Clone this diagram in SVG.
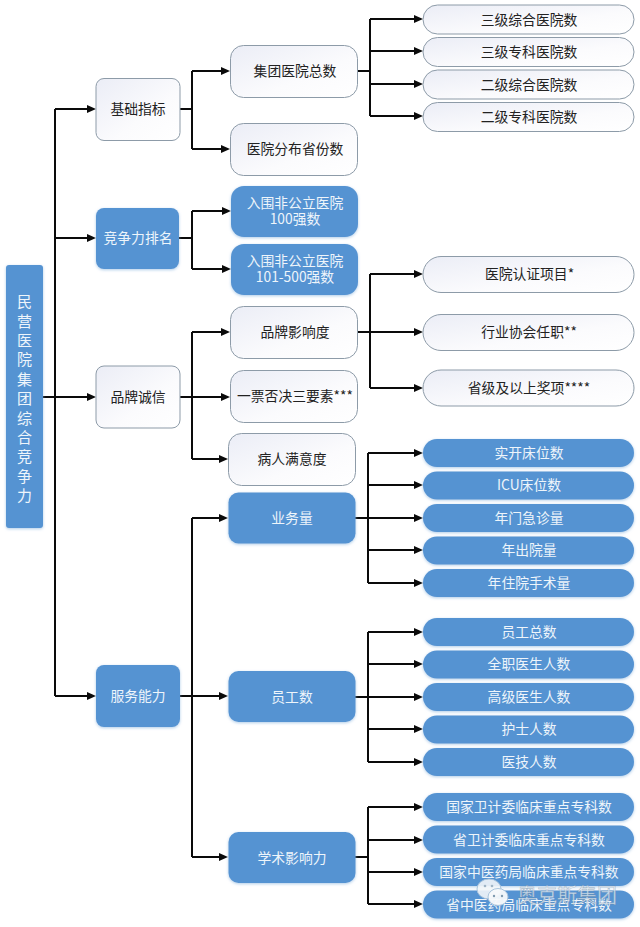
<svg xmlns="http://www.w3.org/2000/svg" width="640" height="927" viewBox="0 0 640 927">
<style>
text{font-family:"Noto Sans CJK SC","Noto Sans",sans-serif;font-size:13.800px;text-anchor:middle;dominant-baseline:central;transform:translateY(-0.800px)}
.w rect{fill:url(#wg);stroke:#8d9ba8;stroke-width:1}
.w text{fill:#222}
.b rect{fill:#5593d2;filter:url(#gl)}
.b text{fill:#eef5fb}
.c path{fill:none;stroke:#0a0a0a;stroke-width:2}
.c path.a{marker-end:url(#ah)}
</style>
<defs>
<linearGradient id="wg" x1="0" y1="0" x2="1" y2="1"><stop offset="0" stop-color="#ebedf6"/><stop offset="0.6" stop-color="#fbfbfd"/><stop offset="1" stop-color="#fff"/></linearGradient>
<filter id="gl" x="-10%" y="-20%" width="120%" height="145%"><feDropShadow dx="0" dy="1" stdDeviation="1.5" flood-color="#8fb8e0" flood-opacity="0.7"/></filter>
<marker id="ah" markerUnits="userSpaceOnUse" markerWidth="10" markerHeight="10" refX="5" refY="5" orient="auto"><path d="M0 1 L9 5 L0 9z" fill="#0a0a0a"/></marker>
</defs>
<rect width="640" height="927" fill="#fff"/>
<g id="connectors" class="c">
<path d="M43 397H55M55 109V696"/>
<path class="a" d="M55 109H92"/><path class="a" d="M55 238H92"/><path class="a" d="M55 397H92"/><path class="a" d="M55 696H92"/>
<path d="M180 109H192M192 71V149"/>
<path class="a" d="M192 71H226"/><path class="a" d="M192 149H226"/>
<path d="M179 238H192M192 211V269"/>
<path class="a" d="M192 211H227"/><path class="a" d="M192 269H227"/>
<path d="M180 397H192M192 332V459"/>
<path class="a" d="M192 332H226"/><path class="a" d="M192 397H226"/><path class="a" d="M192 459H224"/>
<path d="M180 696H192M192 518V857"/>
<path class="a" d="M192 518H224"/><path class="a" d="M192 696H224"/><path class="a" d="M192 857H224"/>
<path d="M358 71H370M370 19V116"/>
<path class="a" d="M370 19H419"/><path class="a" d="M370 51H419"/><path class="a" d="M370 84H419"/><path class="a" d="M370 116H419"/>
<path d="M358 332H370M370 274V388"/>
<path class="a" d="M370 274H419"/><path class="a" d="M370 332H419"/><path class="a" d="M370 388H419"/>
<path d="M355 518H368M368 453V583"/>
<path class="a" d="M368 453H419"/><path class="a" d="M368 485H419"/><path class="a" d="M368 518H419"/><path class="a" d="M368 550H419"/><path class="a" d="M368 583H419"/>
<path d="M355 697H368M368 632V762"/>
<path class="a" d="M368 632H419"/><path class="a" d="M368 664H419"/><path class="a" d="M368 697H419"/><path class="a" d="M368 729H419"/><path class="a" d="M368 762H419"/>
<path d="M355 857H368M368 807V904"/>
<path class="a" d="M368 807H419"/><path class="a" d="M368 840H419"/><path class="a" d="M368 872H419"/><path class="a" d="M368 904H419"/>
</g>
<g id="root" class="b"><rect x="6" y="265" width="37" height="263" rx="3"/><text x="24.500" y="301" style="font-size:15px"><tspan x="24.500" dy="0">民</tspan><tspan x="24.500" dy="19.400">营</tspan><tspan x="24.500" dy="19.400">医</tspan><tspan x="24.500" dy="19.400">院</tspan><tspan x="24.500" dy="19.400">集</tspan><tspan x="24.500" dy="19.400">团</tspan><tspan x="24.500" dy="19.400">综</tspan><tspan x="24.500" dy="19.400">合</tspan><tspan x="24.500" dy="19.400">竞</tspan><tspan x="24.500" dy="19.400">争</tspan><tspan x="24.500" dy="19.400">力</tspan></text></g>
<g id="n-jichu" class="w"><rect x="96" y="78.500" width="84" height="62" rx="8"/><text x="138" y="109">基础指标</text></g>
<g id="n-jingzheng" class="b"><rect x="96" y="208" width="83" height="61" rx="8"/><text x="138" y="238">竞争力排名</text></g>
<g id="n-pinpai" class="w"><rect x="96" y="366" width="84" height="62" rx="8"/><text x="138" y="397">品牌诚信</text></g>
<g id="n-fuwu" class="b"><rect x="96" y="665" width="84" height="62" rx="8"/><text x="138" y="696">服务能力</text></g>
<g id="n-jituan" class="w"><rect x="230.500" y="45.500" width="127" height="52" rx="13"/><text x="295" y="71">集团医院总数</text></g>
<g id="n-fenbu" class="w"><rect x="230.500" y="123.500" width="127" height="52" rx="13"/><text x="295" y="149">医院分布省份数</text></g>
<g id="n-ruwei1" class="b"><rect x="231" y="186" width="127" height="51" rx="13"/><text x="295" y="203"><tspan x="295" dy="0">入围非公立医院</tspan><tspan x="295" dy="16">100强数</tspan></text></g>
<g id="n-ruwei2" class="b"><rect x="231" y="244" width="127" height="51" rx="13"/><text x="295" y="261"><tspan x="295" dy="0">入围非公立医院</tspan><tspan x="295" dy="16">101-500强数</tspan></text></g>
<g id="n-yingxiang" class="w"><rect x="230.500" y="306.500" width="127" height="52" rx="13"/><text x="295" y="332">品牌影响度</text></g>
<g id="n-yipiao" class="w"><rect x="230.500" y="370.500" width="127" height="52" rx="13"/><text x="295" y="396">一票否决三要素***</text></g>
<g id="n-manyi" class="w"><rect x="228.500" y="433.500" width="127" height="52" rx="13"/><text x="292" y="459">病人满意度</text></g>
<g id="n-yewu" class="b"><rect x="228.500" y="492.500" width="127" height="51" rx="10"/><text x="292" y="518">业务量</text></g>
<g id="n-yuangong" class="b"><rect x="228.500" y="671" width="127" height="51" rx="10"/><text x="292" y="697">员工数</text></g>
<g id="n-xueshu" class="b"><rect x="228.500" y="832" width="127" height="51" rx="10"/><text x="292" y="858">学术影响力</text></g>
<g id="l-1" class="w"><rect x="423" y="5" width="211" height="29" rx="14.500"/><text x="529" y="19.500">三级综合医院数</text></g>
<g id="l-2" class="w"><rect x="423" y="37.500" width="211" height="29" rx="14.500"/><text x="529" y="52">三级专科医院数</text></g>
<g id="l-3" class="w"><rect x="423" y="70" width="211" height="29" rx="14.500"/><text x="529" y="84.500">二级综合医院数</text></g>
<g id="l-4" class="w"><rect x="423" y="102.500" width="211" height="29" rx="14.500"/><text x="529" y="117">二级专科医院数</text></g>
<g id="l-5" class="w"><rect x="423" y="256.500" width="211" height="36" rx="18"/><text x="529.500" y="274">医院认证项目*</text></g>
<g id="l-6" class="w"><rect x="423" y="314.500" width="211" height="36" rx="18"/><text x="529" y="332">行业协会任职**</text></g>
<g id="l-7" class="w"><rect x="423" y="370" width="211" height="36" rx="18"/><text x="529" y="388">省级及以上奖项****</text></g>
<g id="l-8" class="b"><rect x="423" y="439" width="211" height="28" rx="14"/><text x="529" y="453">实开床位数</text></g>
<g id="l-9" class="b"><rect x="423" y="471.500" width="211" height="28" rx="14"/><text x="529" y="485">ICU床位数</text></g>
<g id="l-10" class="b"><rect x="423" y="504" width="211" height="28" rx="14"/><text x="529" y="518">年门急诊量</text></g>
<g id="l-11" class="b"><rect x="423" y="536.500" width="211" height="28" rx="14"/><text x="529" y="550">年出院量</text></g>
<g id="l-12" class="b"><rect x="423" y="569" width="211" height="28" rx="14"/><text x="529" y="583">年住院手术量</text></g>
<g id="l-13" class="b"><rect x="423" y="618" width="211" height="28" rx="14"/><text x="529" y="632">员工总数</text></g>
<g id="l-14" class="b"><rect x="423" y="650.500" width="211" height="28" rx="14"/><text x="529" y="664">全职医生人数</text></g>
<g id="l-15" class="b"><rect x="423" y="683" width="211" height="28" rx="14"/><text x="529" y="697">高级医生人数</text></g>
<g id="l-16" class="b"><rect x="423" y="715.500" width="211" height="28" rx="14"/><text x="529" y="729">护士人数</text></g>
<g id="l-17" class="b"><rect x="423" y="748" width="211" height="28" rx="14"/><text x="529" y="762">医技人数</text></g>
<g id="l-18" class="b"><rect x="423" y="793" width="211" height="28" rx="14"/><text x="529" y="807">国家卫计委临床重点专科数</text></g>
<g id="l-19" class="b"><rect x="423" y="825.500" width="211" height="28" rx="14"/><text x="529" y="840">省卫计委临床重点专科数</text></g>
<g id="l-20" class="b"><rect x="423" y="858" width="211" height="28" rx="14"/><text x="529" y="872">国家中医药局临床重点专科数</text></g>
<g id="l-21" class="b"><rect x="423" y="890.500" width="211" height="28" rx="14"/><text x="529" y="905">省中医药局临床重点专科数</text></g>
<g id="watermark">
<ellipse cx="489" cy="889" rx="12" ry="10" fill="#f2f5f8" fill-opacity="0.9" stroke="#a9c4dc" stroke-width="1"/>
<ellipse cx="498" cy="897" rx="10" ry="8.500" fill="#f7f9fb" fill-opacity="0.95" stroke="#a9c4dc" stroke-width="1"/>
<circle cx="485" cy="886" r="1.300" fill="#9fb4c6"/><circle cx="492" cy="886" r="1.300" fill="#9fb4c6"/>
<circle cx="494" cy="896" r="1.200" fill="#7f9ab0"/><circle cx="502" cy="896" r="1.200" fill="#7f9ab0"/>
<text x="567" y="895" style="font-size:20px;fill:#e8eef4;fill-opacity:0.75;stroke:#6d88a0;stroke-width:0.4;stroke-opacity:0.7">奥克斯集团</text>
</g>
</svg>
